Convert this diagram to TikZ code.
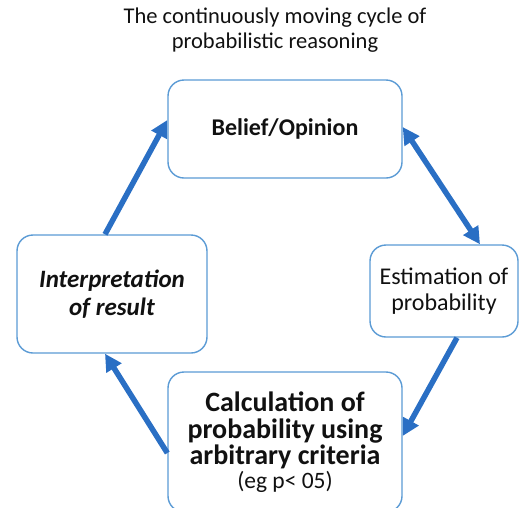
\documentclass[tikz,border=0pt]{standalone}
\usepackage{fontspec}
\setmainfont{Carlito}
\usepackage{xcolor}
\usepackage{tikz}
\usetikzlibrary{arrows.meta}
\definecolor{CycleFrame}{HTML}{5B9BD5}
\definecolor{CycleArrow}{HTML}{2A6FC4}
\definecolor{Ink}{HTML}{111111}

\begin{document}
\begin{tikzpicture}[
  x=1pt,y=1pt,
  cyc/.style={draw=CycleFrame,line width=1.4pt,rounded corners=16pt,fill=white,align=center,text=Ink,font=\fontsize{24}{26.5}\selectfont,inner sep=0pt},
  arr/.style={-{Triangle[length=17pt,width=17pt]},line width=5.5pt,draw=CycleArrow},
  arrb/.style={{Triangle[length=17pt,width=17pt]}-{Triangle[length=17pt,width=17pt]},line width=5.5pt,draw=CycleArrow}
]
\useasboundingbox (0,0) rectangle (522,-507);
\clip (0,0) rectangle (522,-507);
\node[align=center,text=Ink,font=\fontsize{22.5}{25}\selectfont] (title) at (275,-30.5) {The continuously moving cycle of\\probabilistic reasoning};
\node[cyc,minimum width=234pt,minimum height=98pt] (belief) at (285,-129) {\textbf{Belief/Opinion}};
\node[cyc,minimum width=148pt,minimum height=92pt] (estim) at (444,-291) {Estimation of\\probability};
\node[cyc,minimum width=234pt,minimum height=140pt,font=\fontsize{28}{26.5}\selectfont] (calc) at (285,-442) {\textbf{Calculation of}\\\textbf{probability using}\\\textbf{arbitrary criteria}\\[-3pt]{\fontsize{23.5}{23}\selectfont(eg p< 05)}};
\node[cyc,minimum width=190pt,minimum height=118pt,font=\fontsize{25}{27.5}\selectfont] (interp) at (112,-294) {\textbf{\textit{Interpretation}}\\\textbf{\textit{of result}}};

\draw[arr] ([xshift=-7pt]interp.north) -- ([yshift=9pt]belief.west);
\draw[arrb] ([yshift=2pt]belief.east) -- ([xshift=36pt]estim.north);
\draw[arr] ([xshift=13pt]estim.south) -- ([yshift=6pt]calc.east);
\draw[arr] ([yshift=-11pt]calc.west) -- ([xshift=-7pt]interp.south);
\end{tikzpicture}
\end{document}
